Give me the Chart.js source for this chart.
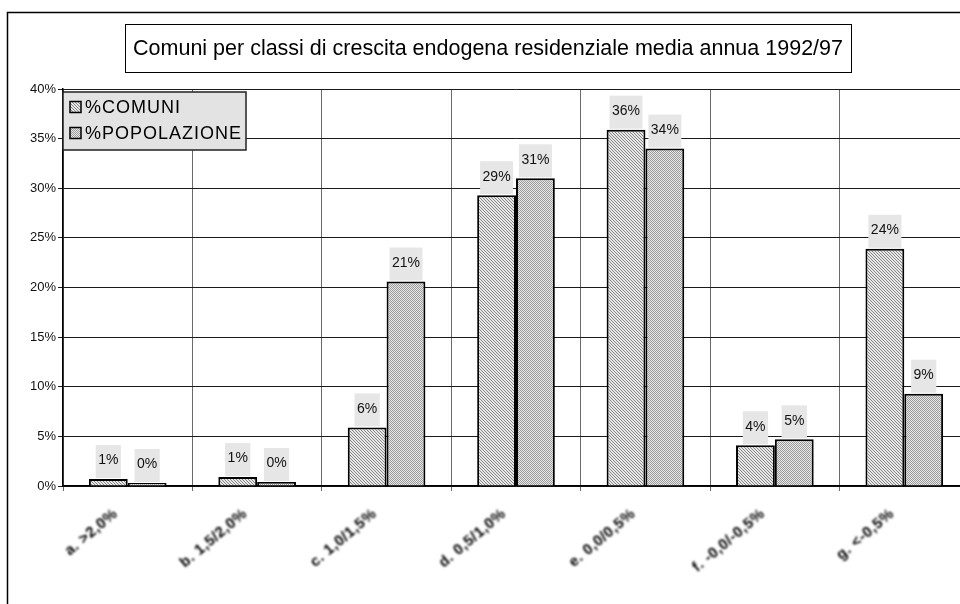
<!DOCTYPE html>
<html>
<head>
<meta charset="utf-8">
<script src="https://cdn.jsdelivr.net/npm/chart.js@4.4.0/dist/chart.umd.min.js"></script>
<style>
  html, body { margin: 0; padding: 0; background: #fff; }
  #frame { position: relative; width: 960px; height: 604px; overflow: hidden; background: #fff; }
  #wrap { position: absolute; left: 0; top: 0; width: 980px; height: 604px; }
</style>
</head>
<body>
<div id="frame"><div id="wrap"><canvas id="c" width="980" height="604"></canvas></div></div>
<script>
// Growth classes (average yearly endogenous residential growth)
const categories = ['a. >2,0%', 'b. 1,5/2,0%', 'c. 1,0/1,5%', 'd. 0,5/1,0%', 'e. 0,0/0,5%', 'f. -0,0/-0,5%', 'g. <-0,5%'];
// Share of municipalities per class (%)
const comuni = [0.7, 0.9, 5.9, 29.3, 35.9, 4.1, 23.9];
// Share of population per class (%)
const popolazione = [0.3, 0.4, 20.6, 31.0, 34.0, 4.7, 9.3];
const seriesNames = ['%COMUNI', '%POPOLAZIONE'];
const yTickValues = [0, 5, 10, 15, 20, 25, 30, 35, 40];
const chartTitle = 'Comuni per classi di crescita endogena residenziale media annua 1992/97';

const FONT = '"Liberation Sans", Arial, sans-serif';

// Fill patterns: fine diagonal hatching and a fine checker
function makePattern(kind) {
  const t = document.createElement('canvas');
  const g = t.getContext('2d');
  if (kind === 'hatch') {
    t.width = 3; t.height = 3;
    g.fillStyle = '#e8e8e8'; g.fillRect(0, 0, 3, 3);
    g.fillStyle = '#858585';
    for (let i = 0; i < 3; i++) g.fillRect(i, i, 1, 1);
  } else {
    t.width = 2; t.height = 2;
    g.fillStyle = '#e8e8e8'; g.fillRect(0, 0, 2, 2);
    g.fillStyle = '#9a9a9a';
    g.fillRect(0, 0, 1, 1); g.fillRect(1, 1, 1, 1);
  }
  return document.getElementById('c').getContext('2d').createPattern(t, 'repeat');
}
const patterns = [makePattern('hatch'), makePattern('checker')];

const decorations = {
  id: 'decorations',
  afterDatasetsDraw(chart) {
    const ctx = chart.ctx;
    ctx.save();
    ctx.font = '14px ' + FONT;
    chart.data.datasets.forEach((ds, di) => {
      const meta = chart.getDatasetMeta(di);
      meta.data.forEach((bar, i) => {
        const txt = Math.round(ds.data[i]) + '%';
        const w = ctx.measureText(txt).width + 5;
        const h = 33;
        const top = bar.y - 1 - h;
        ctx.fillStyle = '#e6e6e6';
        ctx.fillRect(bar.x - w / 2, top, w, h);
        ctx.fillStyle = '#111';
        ctx.textAlign = 'center';
        ctx.textBaseline = 'middle';
        ctx.fillText(txt, bar.x, top + h / 2 - 1);
      });
    });
    ctx.restore();
  },
  afterDraw(chart) {
    const ctx = chart.ctx;
    const xs = chart.scales.x;
    ctx.save();

    // outer frame
    ctx.strokeStyle = '#000';
    ctx.lineWidth = 1.5;
    ctx.beginPath();
    ctx.moveTo(7.5, 610);
    ctx.lineTo(7.5, 12.5);
    ctx.lineTo(985, 12.5);
    ctx.stroke();

    // title box
    ctx.lineWidth = 1;
    ctx.fillStyle = '#fff';
    ctx.fillRect(125.5, 24.5, 726, 48);
    ctx.strokeRect(125.5, 24.5, 726, 48);
    ctx.fillStyle = '#000';
    ctx.font = '21.5px ' + FONT;
    ctx.textAlign = 'center';
    ctx.textBaseline = 'middle';
    ctx.fillText(chartTitle, 488, 49);

    // legend
    ctx.fillStyle = '#e3e3e3';
    ctx.fillRect(63, 92, 183, 58);
    ctx.lineWidth = 1.5;
    ctx.strokeStyle = '#222';
    ctx.strokeRect(63, 92, 183, 58);
    ctx.font = '18px ' + FONT;
    ctx.letterSpacing = '1px';
    ctx.textAlign = 'left';
    seriesNames.forEach((name, i) => {
      const y = 107 + i * 26;
      ctx.fillStyle = patterns[i];
      ctx.fillRect(70, y - 5.5, 11, 11);
      ctx.strokeStyle = '#000';
      ctx.lineWidth = 1.5;
      ctx.strokeRect(70, y - 5.5, 11, 11);
      ctx.fillStyle = '#000';
      ctx.fillText(name, 85, y + 1);
    });
    ctx.letterSpacing = '0px';

    // category labels (soft, rotated)
    ctx.filter = 'blur(1.3px)';
    ctx.font = 'bold 15px ' + FONT;
    ctx.letterSpacing = '0.5px';
    ctx.fillStyle = '#000';
    ctx.textAlign = 'right';
    ctx.textBaseline = 'middle';
    categories.forEach((lab, i) => {
      const x = xs.getPixelForValue(i);
      ctx.save();
      ctx.translate(x - 12, 512);
      ctx.rotate(-40 * Math.PI / 180);
      ctx.fillText(lab, 0, 0);
      ctx.restore();
    });
    ctx.restore();
  }
};

new Chart(document.getElementById('c'), {
  type: 'bar',
  data: {
    labels: categories,
    datasets: [
      { label: seriesNames[0], data: comuni, backgroundColor: patterns[0], borderColor: '#000', borderWidth: 2 },
      { label: seriesNames[1], data: popolazione, backgroundColor: patterns[1], borderColor: '#000', borderWidth: 2 }
    ]
  },
  options: {
    responsive: false,
    animation: false,
    devicePixelRatio: 1,
    layout: { padding: { left: 0, top: 89, right: 11, bottom: 0 } },
    datasets: { bar: { categoryPercentage: 0.6, barPercentage: 1.0 } },
    plugins: { legend: { display: false }, title: { display: false }, tooltip: { enabled: false } },
    scales: {
      x: {
        offset: true,
        grid: { color: '#6a6a6a', lineWidth: 1, tickLength: 5, drawTicks: true },
        border: { color: '#000', width: 1.5 },
        ticks: { display: false },
        afterFit(s) { s.height = 118; }
      },
      y: {
        min: 0, max: 40,
        afterBuildTicks(s) { s.ticks = yTickValues.map(v => ({ value: v })); },
        grid: { color: '#1a1a1a', lineWidth: 1, tickLength: 5 },
        border: { color: '#000', width: 1.5 },
        ticks: { callback: v => v + '%', font: { family: FONT, size: 13 }, color: '#111', padding: 2 },
        afterFit(s) { s.width = 63; }
      }
    }
  },
  plugins: [decorations]
});
</script>
</body>
</html>
